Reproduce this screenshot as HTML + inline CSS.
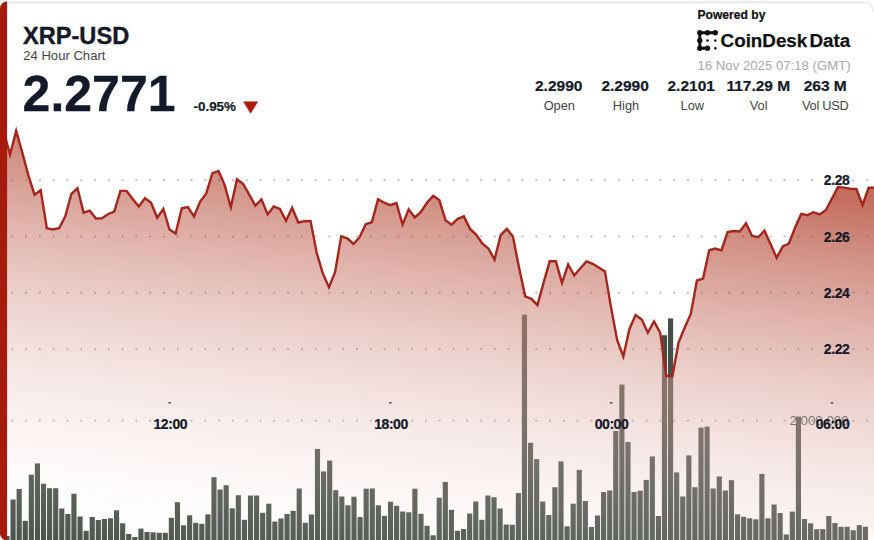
<!DOCTYPE html>
<html><head><meta charset="utf-8"><title>XRP-USD 24 Hour Chart</title>
<style>
html,body{margin:0;padding:0;background:#fff;}
body{width:874px;height:540px;overflow:hidden;position:relative;font-family:"Liberation Sans",sans-serif;}
#card{position:absolute;left:0;top:0;width:874px;height:540px;overflow:hidden;background:#fff;}
svg{position:absolute;left:0;top:0;display:block;}
.t{position:absolute;white-space:nowrap;line-height:1;color:#141a2a;}
.b{font-weight:bold;-webkit-text-stroke:0.22px currentColor;}
.c{transform:translateX(-50%);text-align:center;}
</style></head><body>
<div id="card">
<svg width="874" height="540" viewBox="0 0 874 540">
<defs>
<linearGradient id="g" gradientUnits="userSpaceOnUse" x1="143" y1="113.05" x2="87.6" y2="564.5">
<stop offset="0" stop-color="#b74f3d" stop-opacity="0.82"/>
<stop offset="1" stop-color="#ffffff" stop-opacity="0"/>
</linearGradient>
<filter id="soft" x="0" y="0" width="874" height="541" filterUnits="userSpaceOnUse"><feGaussianBlur stdDeviation="0.42"/></filter>
<clipPath id="cp"><rect x="7" y="0" width="867" height="540"/></clipPath>
<clipPath id="card-clip"><rect x="0" y="1.4" width="874" height="539" rx="7" ry="7"/></clipPath>
</defs>
<rect x="0" y="0" width="874" height="540" fill="#fff"/>
<path d="M6 2.2 L864 2.2" fill="none" stroke="#e8e8e8" stroke-width="2"/><path d="M864 2.2 L865 2.2 A8 8 0 0 1 873 10.2 L873 12" fill="none" stroke="#efefef" stroke-width="1.8"/>
<g clip-path="url(#card-clip)">
<g clip-path="url(#cp)">
<g filter="url(#soft)">
<g fill="#454f47"><rect x="4.4" y="536" width="5.15" height="5"/><rect x="10.5" y="499.5" width="5.15" height="41.5"/><rect x="16.59" y="489" width="5.15" height="52"/><rect x="22.68" y="520.8" width="5.15" height="20.2"/><rect x="28.76" y="474.7" width="5.15" height="66.3"/><rect x="34.85" y="463.4" width="5.15" height="77.6"/><rect x="40.94" y="483.7" width="5.15" height="57.3"/><rect x="47.03" y="488.2" width="5.15" height="52.8"/><rect x="53.12" y="488.2" width="5.15" height="52.8"/><rect x="59.2" y="508.5" width="5.15" height="32.5"/><rect x="65.29" y="514" width="5.15" height="27"/><rect x="71.38" y="493.7" width="5.15" height="47.3"/><rect x="77.47" y="516.5" width="5.15" height="24.5"/><rect x="83.56" y="530.8" width="5.15" height="10.2"/><rect x="89.64" y="517" width="5.15" height="24"/><rect x="95.73" y="520" width="5.15" height="21"/><rect x="101.82" y="519" width="5.15" height="22"/><rect x="107.91" y="518.3" width="5.15" height="22.7"/><rect x="114" y="510.3" width="5.15" height="30.7"/><rect x="120.08" y="523.3" width="5.15" height="17.7"/><rect x="126.17" y="534" width="5.15" height="7"/><rect x="132.26" y="537" width="5.15" height="4"/><rect x="138.35" y="528.6" width="5.15" height="12.4"/><rect x="144.44" y="532" width="5.15" height="9"/><rect x="150.52" y="532.3" width="5.15" height="8.7"/><rect x="156.61" y="532.8" width="5.15" height="8.2"/><rect x="162.7" y="532.8" width="5.15" height="8.2"/><rect x="168.79" y="517.8" width="5.15" height="23.2"/><rect x="174.88" y="502.2" width="5.15" height="38.8"/><rect x="180.96" y="525.3" width="5.15" height="15.7"/><rect x="187.05" y="515.3" width="5.15" height="25.7"/><rect x="193.14" y="522.8" width="5.15" height="18.2"/><rect x="199.23" y="523.8" width="5.15" height="17.2"/><rect x="205.32" y="514.3" width="5.15" height="26.7"/><rect x="211.4" y="477.2" width="5.15" height="63.8"/><rect x="217.49" y="489.5" width="5.15" height="51.5"/><rect x="223.58" y="485.2" width="5.15" height="55.8"/><rect x="229.67" y="508.3" width="5.15" height="32.7"/><rect x="235.76" y="495.2" width="5.15" height="45.8"/><rect x="241.84" y="519.8" width="5.15" height="21.2"/><rect x="247.93" y="495.5" width="5.15" height="45.5"/><rect x="254.02" y="495.5" width="5.15" height="45.5"/><rect x="260.11" y="512.8" width="5.15" height="28.2"/><rect x="266.2" y="503.7" width="5.15" height="37.3"/><rect x="272.28" y="521.5" width="5.15" height="19.5"/><rect x="278.37" y="518.5" width="5.15" height="22.5"/><rect x="284.46" y="514" width="5.15" height="27"/><rect x="290.55" y="510.8" width="5.15" height="30.2"/><rect x="296.64" y="488.5" width="5.15" height="52.5"/><rect x="302.72" y="522.8" width="5.15" height="18.2"/><rect x="308.81" y="514.5" width="5.15" height="26.5"/><rect x="314.9" y="448.9" width="5.15" height="92.1"/><rect x="320.99" y="471.4" width="5.15" height="69.6"/><rect x="327.08" y="460.6" width="5.15" height="80.4"/><rect x="333.16" y="490.2" width="5.15" height="50.8"/><rect x="339.25" y="496.5" width="5.15" height="44.5"/><rect x="345.34" y="505.3" width="5.15" height="35.7"/><rect x="351.43" y="496.7" width="5.15" height="44.3"/><rect x="357.52" y="517" width="5.15" height="24"/><rect x="363.6" y="488.7" width="5.15" height="52.3"/><rect x="369.69" y="488.5" width="5.15" height="52.5"/><rect x="375.78" y="505.3" width="5.15" height="35.7"/><rect x="381.87" y="515.8" width="5.15" height="25.2"/><rect x="387.96" y="501.7" width="5.15" height="39.3"/><rect x="394.04" y="505.8" width="5.15" height="35.2"/><rect x="400.13" y="511.5" width="5.15" height="29.5"/><rect x="406.22" y="512.3" width="5.15" height="28.7"/><rect x="412.31" y="488.7" width="5.15" height="52.3"/><rect x="418.4" y="513.8" width="5.15" height="27.2"/><rect x="424.48" y="525.8" width="5.15" height="15.2"/><rect x="430.57" y="535.3" width="5.15" height="5.7"/><rect x="436.66" y="497.7" width="5.15" height="43.3"/><rect x="442.75" y="481.9" width="5.15" height="59.1"/><rect x="448.84" y="509.8" width="5.15" height="31.2"/><rect x="454.92" y="530.8" width="5.15" height="10.2"/><rect x="461.01" y="529" width="5.15" height="12"/><rect x="467.1" y="513.5" width="5.15" height="27.5"/><rect x="473.19" y="501.5" width="5.15" height="39.5"/><rect x="479.28" y="519.8" width="5.15" height="21.2"/><rect x="485.36" y="495.5" width="5.15" height="45.5"/><rect x="491.45" y="497.2" width="5.15" height="43.8"/><rect x="497.54" y="508.5" width="5.15" height="32.5"/><rect x="503.63" y="524.5" width="5.15" height="16.5"/><rect x="509.72" y="524.8" width="5.15" height="16.2"/><rect x="515.8" y="493" width="5.15" height="48"/><rect x="521.89" y="314.6" width="5.15" height="226.4"/><rect x="527.98" y="442.8" width="5.15" height="98.2"/><rect x="534.07" y="459.1" width="5.15" height="81.9"/><rect x="540.16" y="501.5" width="5.15" height="39.5"/><rect x="546.24" y="515" width="5.15" height="26"/><rect x="552.33" y="487.2" width="5.15" height="53.8"/><rect x="558.42" y="461.4" width="5.15" height="79.6"/><rect x="564.51" y="526.3" width="5.15" height="14.7"/><rect x="570.6" y="503.7" width="5.15" height="37.3"/><rect x="576.68" y="469.9" width="5.15" height="71.1"/><rect x="582.77" y="501" width="5.15" height="40"/><rect x="588.86" y="527" width="5.15" height="14"/><rect x="594.95" y="515.5" width="5.15" height="25.5"/><rect x="601.04" y="492" width="5.15" height="49"/><rect x="607.12" y="490.5" width="5.15" height="50.5"/><rect x="613.21" y="431" width="5.15" height="110"/><rect x="619.3" y="384.6" width="5.15" height="156.4"/><rect x="625.39" y="442" width="5.15" height="99"/><rect x="631.48" y="492" width="5.15" height="49"/><rect x="637.56" y="490.7" width="5.15" height="50.3"/><rect x="643.65" y="479.9" width="5.15" height="61.1"/><rect x="649.74" y="456.4" width="5.15" height="84.6"/><rect x="655.83" y="516" width="5.15" height="25"/><rect x="661.92" y="335.2" width="5.15" height="205.8"/><rect x="668" y="318.4" width="5.15" height="222.6"/><rect x="674.09" y="472.4" width="5.15" height="68.6"/><rect x="680.18" y="496.5" width="5.15" height="44.5"/><rect x="686.27" y="455.4" width="5.15" height="85.6"/><rect x="692.36" y="487.2" width="5.15" height="53.8"/><rect x="698.44" y="427.6" width="5.15" height="113.4"/><rect x="704.53" y="426.6" width="5.15" height="114.4"/><rect x="710.62" y="488.5" width="5.15" height="52.5"/><rect x="716.71" y="476.4" width="5.15" height="64.6"/><rect x="722.8" y="490.5" width="5.15" height="50.5"/><rect x="728.88" y="480.2" width="5.15" height="60.8"/><rect x="734.97" y="514.3" width="5.15" height="26.7"/><rect x="741.06" y="516.8" width="5.15" height="24.2"/><rect x="747.15" y="518.3" width="5.15" height="22.7"/><rect x="753.24" y="519.3" width="5.15" height="21.7"/><rect x="759.32" y="473.9" width="5.15" height="67.1"/><rect x="765.41" y="518.3" width="5.15" height="22.7"/><rect x="771.5" y="504.5" width="5.15" height="36.5"/><rect x="777.59" y="513" width="5.15" height="28"/><rect x="783.68" y="534.5" width="5.15" height="6.5"/><rect x="789.76" y="511.6" width="5.15" height="29.4"/><rect x="795.85" y="416.5" width="5.15" height="124.5"/><rect x="801.94" y="519" width="5.15" height="22"/><rect x="808.03" y="523.3" width="5.15" height="17.7"/><rect x="814.12" y="529.2" width="5.15" height="11.8"/><rect x="820.2" y="529.1" width="5.15" height="11.9"/><rect x="826.29" y="516" width="5.15" height="25"/><rect x="832.38" y="523" width="5.15" height="18"/><rect x="838.47" y="526.8" width="5.15" height="14.2"/><rect x="844.56" y="526.7" width="5.15" height="14.3"/><rect x="850.64" y="530.2" width="5.15" height="10.8"/><rect x="856.73" y="525.1" width="5.15" height="15.9"/><rect x="862.82" y="526.7" width="5.15" height="14.3"/></g>
<path d="M3.9 132.3 L10.03 154.6 L16.17 130.9 L22.3 152.6 L28.43 175.6 L34.56 194.7 L40.7 190.2 L46.83 228.3 L52.96 229.5 L59.1 228.3 L65.23 216.5 L71.36 193.9 L77.5 188.3 L83.63 212.7 L89.76 210.7 L95.9 218.5 L102.03 218.2 L108.16 214 L114.29 211.7 L120.43 190.9 L126.56 190.9 L132.69 198.9 L138.83 206.5 L144.96 198.2 L151.09 202.7 L157.22 217.7 L163.36 209 L169.49 229.5 L175.62 233.5 L181.76 208.2 L187.89 207 L194.02 216.5 L200.16 201.5 L206.29 193.4 L212.42 173.1 L218.56 170.9 L224.69 185.1 L230.82 207.2 L236.95 179.3 L243.09 183.9 L249.22 194.6 L255.35 205.7 L261.49 199.4 L267.62 214.4 L273.75 206.4 L279.88 208.9 L286.02 220.7 L292.15 207.7 L298.28 222.5 L304.42 221.2 L310.55 220.9 L316.68 252.8 L322.82 273.4 L328.95 287.2 L335.08 272.1 L341.21 236.3 L347.35 238.3 L353.48 244 L359.61 237.2 L365.75 224.2 L371.88 222.2 L378.01 199.3 L384.15 202.6 L390.28 205.2 L396.41 203 L402.54 224.5 L408.68 209.4 L414.81 217.5 L420.94 211.9 L427.08 202.6 L433.21 195.9 L439.34 200.1 L445.48 220.2 L451.61 224.7 L457.74 218.9 L463.88 216.4 L470.01 228.9 L476.14 234.5 L482.27 243.5 L488.41 248.5 L494.54 259.7 L500.67 235.2 L506.81 228.9 L512.94 236.5 L519.07 267.8 L525.2 296.3 L531.34 298.8 L537.47 305.1 L543.6 282.6 L549.74 261.3 L555.87 261.3 L562 283 L568.14 264.5 L574.27 275.5 L580.4 268.3 L586.53 261.4 L592.67 263.8 L598.8 267.5 L604.93 271.4 L611.07 307.6 L617.2 340.2 L623.33 356.5 L629.47 328.9 L635.6 315.1 L641.73 319.6 L647.87 332.7 L654 321.4 L660.13 332.7 L666.26 375.8 L672.4 376.5 L678.53 342.7 L684.66 327.7 L690.8 313.9 L696.93 280.5 L703.06 278.6 L709.19 250.3 L715.33 248.5 L721.46 250.3 L727.59 232 L733.73 231 L739.86 231.5 L745.99 223.4 L752.13 236 L758.26 237.2 L764.39 230.7 L770.52 244 L776.66 257.8 L782.79 246.5 L788.92 243.5 L795.06 227.7 L801.19 213.9 L807.32 215.2 L813.46 212.2 L819.59 214.4 L825.72 210.2 L831.86 198.9 L837.99 187.1 L844.12 187.6 L850.25 188.8 L856.39 189 L862.52 205 L868.65 187.8 L874.79 187.8 L874.79 541 L3.9 541 Z" fill="url(#g)"/>
<g stroke="#7a5c5c" stroke-width="1.9" stroke-dasharray="1.9 11.89" stroke-opacity="0.42"><line x1="11.3" x2="874" y1="180.2" y2="180.2"/><line x1="11.3" x2="874" y1="236.5" y2="236.5"/><line x1="11.3" x2="874" y1="292.8" y2="292.8"/><line x1="11.3" x2="874" y1="349.1" y2="349.1"/><line x1="11.3" x2="874" y1="420.6" y2="420.6"/></g>
<path d="M3.9 132.3 L10.03 154.6 L16.17 130.9 L22.3 152.6 L28.43 175.6 L34.56 194.7 L40.7 190.2 L46.83 228.3 L52.96 229.5 L59.1 228.3 L65.23 216.5 L71.36 193.9 L77.5 188.3 L83.63 212.7 L89.76 210.7 L95.9 218.5 L102.03 218.2 L108.16 214 L114.29 211.7 L120.43 190.9 L126.56 190.9 L132.69 198.9 L138.83 206.5 L144.96 198.2 L151.09 202.7 L157.22 217.7 L163.36 209 L169.49 229.5 L175.62 233.5 L181.76 208.2 L187.89 207 L194.02 216.5 L200.16 201.5 L206.29 193.4 L212.42 173.1 L218.56 170.9 L224.69 185.1 L230.82 207.2 L236.95 179.3 L243.09 183.9 L249.22 194.6 L255.35 205.7 L261.49 199.4 L267.62 214.4 L273.75 206.4 L279.88 208.9 L286.02 220.7 L292.15 207.7 L298.28 222.5 L304.42 221.2 L310.55 220.9 L316.68 252.8 L322.82 273.4 L328.95 287.2 L335.08 272.1 L341.21 236.3 L347.35 238.3 L353.48 244 L359.61 237.2 L365.75 224.2 L371.88 222.2 L378.01 199.3 L384.15 202.6 L390.28 205.2 L396.41 203 L402.54 224.5 L408.68 209.4 L414.81 217.5 L420.94 211.9 L427.08 202.6 L433.21 195.9 L439.34 200.1 L445.48 220.2 L451.61 224.7 L457.74 218.9 L463.88 216.4 L470.01 228.9 L476.14 234.5 L482.27 243.5 L488.41 248.5 L494.54 259.7 L500.67 235.2 L506.81 228.9 L512.94 236.5 L519.07 267.8 L525.2 296.3 L531.34 298.8 L537.47 305.1 L543.6 282.6 L549.74 261.3 L555.87 261.3 L562 283 L568.14 264.5 L574.27 275.5 L580.4 268.3 L586.53 261.4 L592.67 263.8 L598.8 267.5 L604.93 271.4 L611.07 307.6 L617.2 340.2 L623.33 356.5 L629.47 328.9 L635.6 315.1 L641.73 319.6 L647.87 332.7 L654 321.4 L660.13 332.7 L666.26 375.8 L672.4 376.5 L678.53 342.7 L684.66 327.7 L690.8 313.9 L696.93 280.5 L703.06 278.6 L709.19 250.3 L715.33 248.5 L721.46 250.3 L727.59 232 L733.73 231 L739.86 231.5 L745.99 223.4 L752.13 236 L758.26 237.2 L764.39 230.7 L770.52 244 L776.66 257.8 L782.79 246.5 L788.92 243.5 L795.06 227.7 L801.19 213.9 L807.32 215.2 L813.46 212.2 L819.59 214.4 L825.72 210.2 L831.86 198.9 L837.99 187.1 L844.12 187.6 L850.25 188.8 L856.39 189 L862.52 205 L868.65 187.8 L874.79 187.8" fill="none" stroke="#a5261b" stroke-width="2.4" stroke-linejoin="miter" stroke-miterlimit="5"/>
</g>
</g>
<rect x="0" y="0" width="7.1" height="540" fill="#a61b0c"/>
</g>
<g fill="#3a3a3a"><rect x="168.3" y="402.2" width="2.6" height="1.3"/><rect x="389.1" y="402.2" width="2.6" height="1.3"/><rect x="609.9" y="402.2" width="2.6" height="1.3"/><rect x="830.7" y="402.2" width="2.6" height="1.3"/></g>
<path d="M243.6 101.8 L257.7 101.8 L250.65 113.2 Z" fill="#b3190e" stroke="#8e1510" stroke-width="0.5"/>
<g id="logo" fill="#111" stroke="#111">
<path d="M715.3 32.8 L699.8 32.8 L699.8 48.3 L707.4 48.3" fill="none" stroke-width="2.9" stroke-linecap="round" stroke-linejoin="round"/>
<circle cx="699.8" cy="32.8" r="2.7" stroke="none"/><circle cx="707.5" cy="32.8" r="2.7" stroke="none"/><circle cx="715.3" cy="32.8" r="2.7" stroke="none"/>
<circle cx="699.8" cy="40.5" r="2.7" stroke="none"/><circle cx="699.8" cy="48.3" r="2.7" stroke="none"/><circle cx="707.5" cy="48.3" r="2.7" stroke="none"/>
<circle cx="707.5" cy="40.5" r="1.25" stroke="none"/><circle cx="715.3" cy="40.5" r="1.25" stroke="none"/><circle cx="715.3" cy="48.3" r="1.25" stroke="none"/>
</g>
</svg>
<div class="t b" style="left:23px;top:24.6px;font-size:23.6px;-webkit-text-stroke:0.4px #141a2a;">XRP-USD</div>
<div class="t" style="left:23.2px;top:49px;font-size:13.1px;color:#444;">24 Hour Chart</div>
<div class="t b" style="left:22.6px;top:68.5px;font-size:50px;-webkit-text-stroke:0.3px #141a2a;">2.2771</div>
<div class="t b" style="left:193.5px;top:100px;font-size:13.4px;">-0.95%</div>
<div class="t b" style="left:697.5px;top:9.3px;font-size:12.1px;color:#111;">Powered by</div>
<div class="t b" style="left:720.6px;top:31.8px;font-size:18.8px;color:#111;-webkit-text-stroke:0.25px #111;">CoinDesk<span style="margin-left:2.3px">Data</span></div>
<div class="t" style="left:697.5px;top:58.8px;font-size:13.2px;color:#a9a9a9;">16 Nov 2025 07:18 (GMT)</div>

<div class="t b c" style="left:558.7px;top:78.4px;font-size:15.5px;">2.2990</div>
<div class="t b c" style="left:625.1px;top:78.4px;font-size:15.5px;">2.2990</div>
<div class="t b c" style="left:691.2px;top:78.4px;font-size:15.5px;">2.2101</div>
<div class="t b c" style="left:758.3px;top:78.4px;font-size:15.5px;">117.29 M</div>
<div class="t b c" style="left:825.2px;top:78.4px;font-size:15.5px;">263 M</div>
<div class="t c" style="left:559.3px;top:99.5px;font-size:12.8px;color:#444;">Open</div>
<div class="t c" style="left:626px;top:99.5px;font-size:12.8px;color:#444;">High</div>
<div class="t c" style="left:692.3px;top:99.5px;font-size:12.8px;color:#444;">Low</div>
<div class="t c" style="left:758.7px;top:99.5px;font-size:12.8px;color:#444;">Vol</div>
<div class="t c" style="left:825.2px;top:99.5px;font-size:12.8px;letter-spacing:-0.3px;color:#444;">Vol USD</div>

<div class="t b c" style="left:836.7px;top:173.4px;font-size:14px;letter-spacing:-0.4px;">2.28</div>
<div class="t b c" style="left:836.7px;top:229.7px;font-size:14px;letter-spacing:-0.4px;">2.26</div>
<div class="t b c" style="left:836.7px;top:286px;font-size:14px;letter-spacing:-0.4px;">2.24</div>
<div class="t b c" style="left:836.7px;top:342.3px;font-size:14px;letter-spacing:-0.4px;">2.22</div>

<div class="t" style="right:25.4px;top:413.6px;font-size:13.3px;color:#7f7874;">2,000,000</div>
<div class="t b c" style="left:170.3px;top:416.5px;font-size:14px;letter-spacing:-0.45px;">12:00</div>
<div class="t b c" style="left:391px;top:416.5px;font-size:14px;letter-spacing:-0.45px;">18:00</div>
<div class="t b c" style="left:611.5px;top:416.5px;font-size:14px;letter-spacing:-0.45px;">00:00</div>
<div class="t b c" style="left:832.5px;top:416.5px;font-size:14px;letter-spacing:-0.45px;">06:00</div>
</div>
</body></html>
